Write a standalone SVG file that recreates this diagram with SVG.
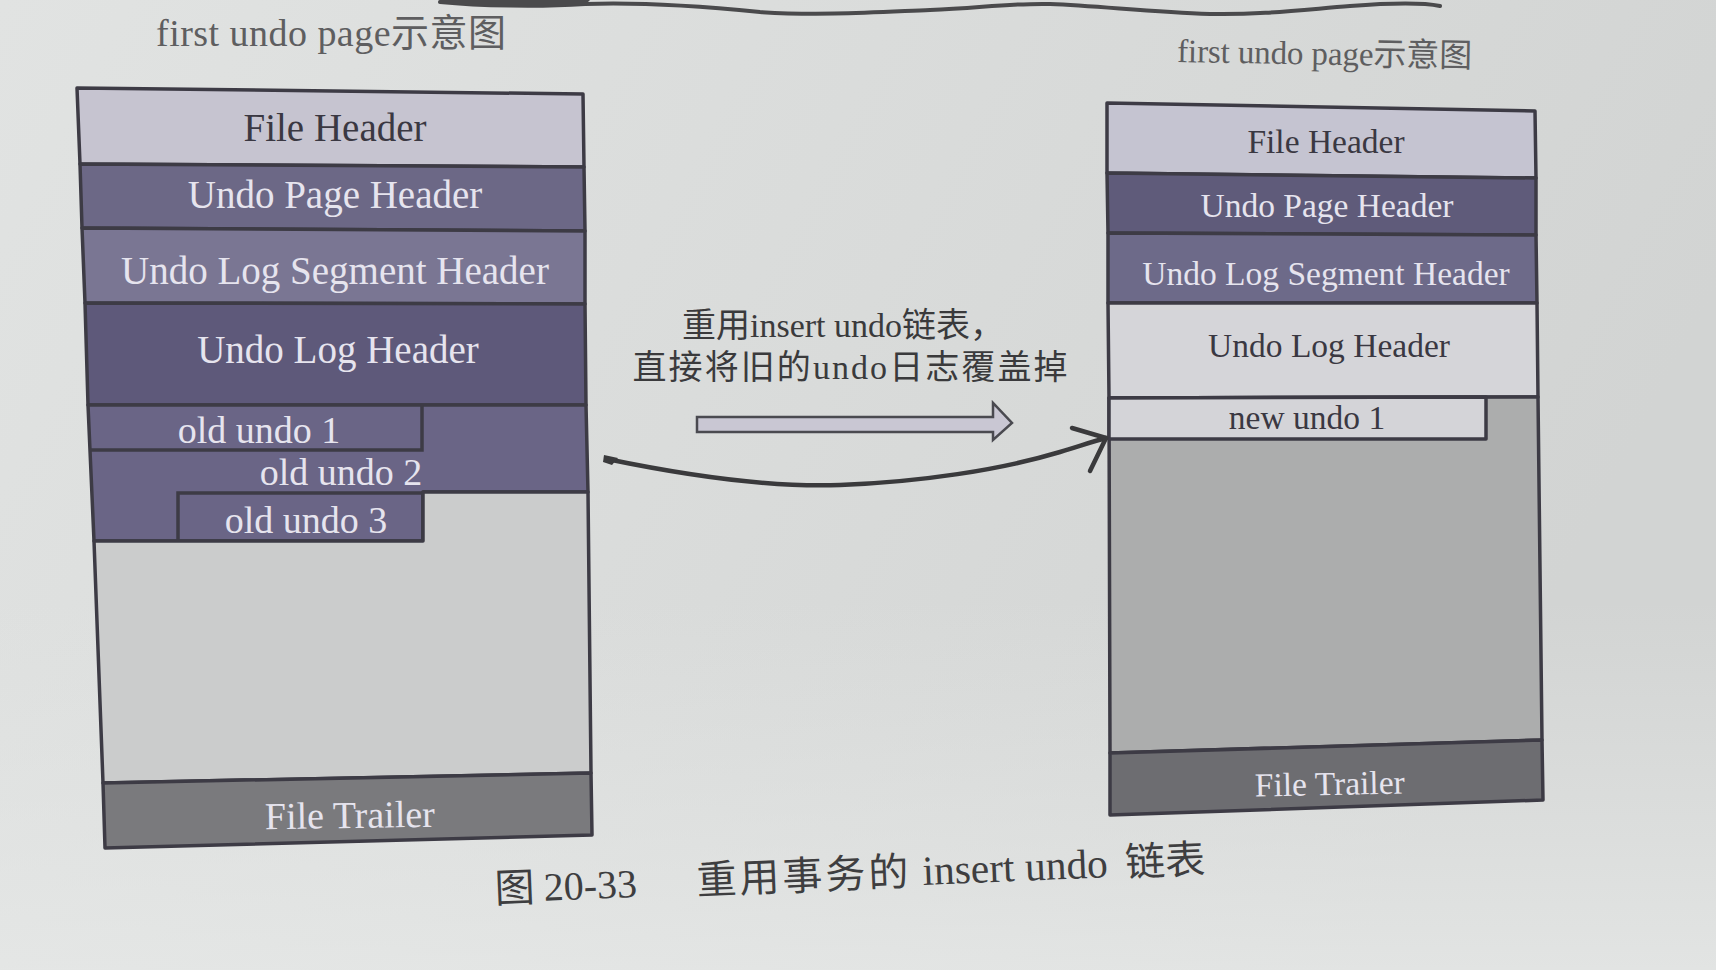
<svg xmlns="http://www.w3.org/2000/svg" width="1716" height="970" viewBox="0 0 1716 970">
  <defs>
    <linearGradient id="paper" x1="0" y1="0" x2="1" y2="0.3">
      <stop offset="0" stop-color="#e1e3e2"/>
      <stop offset="0.55" stop-color="#d9dbda"/>
      <stop offset="1" stop-color="#d2d4d3"/>
    </linearGradient>
    <linearGradient id="paperBottom" x1="0" y1="0" x2="0" y2="1">
      <stop offset="0" stop-color="#e4e6e5" stop-opacity="0"/>
      <stop offset="1" stop-color="#e6e8e7" stop-opacity="0.8"/>
    </linearGradient>
    <style>
      .band { stroke: #3d3b45; stroke-width: 3.5; stroke-linejoin: round; }
      .edge { fill: none; stroke: #3d3b45; stroke-width: 3.5; stroke-linecap: butt; }
      .lbl { font-family: "Liberation Serif", "Noto Sans CJK SC", serif; text-anchor: middle; }
      .dark { fill: #3a3842; }
      .light { fill: #e6e4ee; }
      .big { font-size: 39px; }
      .mid { font-size: 38px; }
      .small { font-size: 33.5px; }
      .title { font-family: "Liberation Serif", "Noto Sans CJK SC", serif; fill: #5e5e60; }
      .note { font-family: "Liberation Serif", "Noto Sans CJK SC", serif; fill: #3a3a3c; font-size: 34px; text-anchor: middle; }
      .ink { fill: none; stroke: #3a3a3c; stroke-width: 4.5; stroke-linecap: round; stroke-linejoin: round; }
    </style>
  </defs>

  <!-- paper -->
  <rect x="0" y="0" width="1716" height="970" fill="url(#paper)"/>
  <rect x="0" y="600" width="1716" height="370" fill="url(#paperBottom)"/>

  <!-- hand-drawn stroke along the top edge -->
  <path d="M 440 2 C 480 6 540 7 585 4 C 640 2 700 6 760 12 C 820 16 880 12 930 10 C 980 8 1010 3 1050 4 C 1100 6 1150 12 1210 14 C 1260 15 1300 10 1350 6 C 1390 3 1420 2 1440 6" fill="none" stroke="#4a4a4c" stroke-width="4" stroke-linecap="round"/>
  <path d="M 440 0 L 590 0 L 585 5 C 540 8 480 7 440 3 Z" fill="#4a4a4c"/>

  <!-- page titles -->
  <text class="title" x="156" y="46" font-size="38" textLength="350" lengthAdjust="spacing">first undo page示意图</text>
  <text class="title" x="1177" y="62" font-size="33" textLength="295" lengthAdjust="spacing" transform="rotate(1 1177 62)">first undo page示意图</text>

  <!-- left page: old undo log chain -->
  <g id="left-page">
    <g id="l-file-header">
      <polygon class="band" points="77,88 583,94 584,167 80,164" fill="#c6c4d0"/>
      <text class="lbl dark big" x="335" y="141">File Header</text>
    </g>
    <g id="l-undo-page-header">
      <polygon class="band" points="80,164 584,167 585,231 82,228" fill="#6c6886"/>
      <text class="lbl light big" x="335" y="208">Undo Page Header</text>
    </g>
    <g id="l-undo-log-segment-header">
      <polygon class="band" points="82,228 585,231 585,304 85,303" fill="#7a7693"/>
      <text class="lbl light big" x="335" y="284">Undo Log Segment Header</text>
    </g>
    <g id="l-undo-log-header">
      <polygon class="band" points="85,303 585,304 586,405 88,405" fill="#5e597a"/>
      <text class="lbl light big" x="338" y="363">Undo Log Header</text>
    </g>
    <g id="l-old-undo-area">
      <polygon class="band" points="88,405 586,405 588,492 423,492 423,541 94,541" fill="#6a6586"/>
    </g>
    <g id="l-old-undo-1">
      <path class="edge" d="M 90 450 L 422 450 L 422 405"/>
      <text class="lbl light mid" x="259" y="443">old undo 1</text>
    </g>
    <g id="l-old-undo-2">
      <text class="lbl light mid" x="341" y="485">old undo 2</text>
    </g>
    <g id="l-old-undo-3">
      <path class="edge" d="M 178 541 L 178 493 L 423 493 L 423 541"/>
      <text class="lbl light mid" x="306" y="533">old undo 3</text>
    </g>
    <g id="l-free-space">
      <polygon class="band" points="94,541 423,541 423,492 588,492 591,773 103,783" fill="#cbcccc"/>
    </g>
    <g id="l-file-trailer">
      <polygon class="band" points="103,783 591,773 592,835 105,848" fill="#7a7a7d"/>
      <text class="lbl light mid" x="350" y="828" transform="rotate(-0.8 350 828)">File Trailer</text>
    </g>
  </g>

  <!-- right page: chain reused, first undo overwritten -->
  <g id="right-page">
    <g id="r-file-header">
      <polygon class="band" points="1107,103 1535,111 1536,178 1107,173" fill="#c5c4d1"/>
      <text class="lbl dark small" x="1326" y="153">File Header</text>
    </g>
    <g id="r-undo-page-header">
      <polygon class="band" points="1107,173 1536,178 1536,235 1108,233" fill="#5f5b7a"/>
      <text class="lbl light small" x="1327" y="217">Undo Page Header</text>
    </g>
    <g id="r-undo-log-segment-header">
      <polygon class="band" points="1108,233 1536,235 1537,303 1108,303" fill="#6d6a89"/>
      <text class="lbl light small" x="1326" y="285">Undo Log Segment Header</text>
    </g>
    <g id="r-undo-log-header">
      <polygon class="band" points="1108,303 1537,303 1538,397 1109,398" fill="#d5d5d9"/>
      <text class="lbl dark small" x="1329" y="357">Undo Log Header</text>
    </g>
    <g id="r-free-space">
      <polygon class="band" points="1109,398 1538,397 1542,740 1110,753" fill="#acadad"/>
    </g>
    <g id="r-new-undo-1">
      <polygon class="band" points="1109,398 1486,397 1486,439 1109,439" fill="#d4d4d8"/>
      <text class="lbl dark small" x="1307" y="429">new undo 1</text>
    </g>
    <g id="r-file-trailer">
      <polygon class="band" points="1110,753 1542,740 1543,800 1110,815" fill="#6d6d71"/>
      <text class="lbl light small" x="1330" y="795" transform="rotate(-1.2 1330 795)">File Trailer</text>
    </g>
  </g>

  <!-- explanation between the pages -->
  <g id="reuse-note">
    <text class="note" x="843" y="337">重用insert undo链表，</text>
    <text class="note" x="850" y="379" textLength="435" lengthAdjust="spacing">直接将旧的undo日志覆盖掉</text>
  </g>

  <!-- connectors -->
  <g id="connectors">
    <polygon points="697,417 993,417 993,403 1012,423 993,440 993,432 697,432" fill="#c9c7d3" stroke="#4a4a50" stroke-width="2.5" stroke-linejoin="miter"/>
    <path class="ink" d="M 607 459 C 660 470 760 488 840 485 C 920 482 1000 470 1060 452 C 1080 446 1094 441 1106 438"/>
    <path class="ink" d="M 1072 428 L 1106 438 L 1090 471" stroke-width="3.5"/>
    <path d="M 604 455 L 618 458 L 612 465 L 603 462 Z" fill="#3a3a3c"/>
  </g>

  <!-- figure caption -->
  <g id="caption" transform="rotate(-2.4 850 888)">
    <text font-family="Liberation Serif, Noto Sans CJK SC, serif" font-size="40" fill="#3e3e40" y="888">
      <tspan x="495">图</tspan><tspan x="544">20-33</tspan><tspan x="697" letter-spacing="3">重用事务的</tspan><tspan x="923" font-size="41.5">insert undo</tspan><tspan x="1126">链表</tspan>
    </text>
  </g>
</svg>
